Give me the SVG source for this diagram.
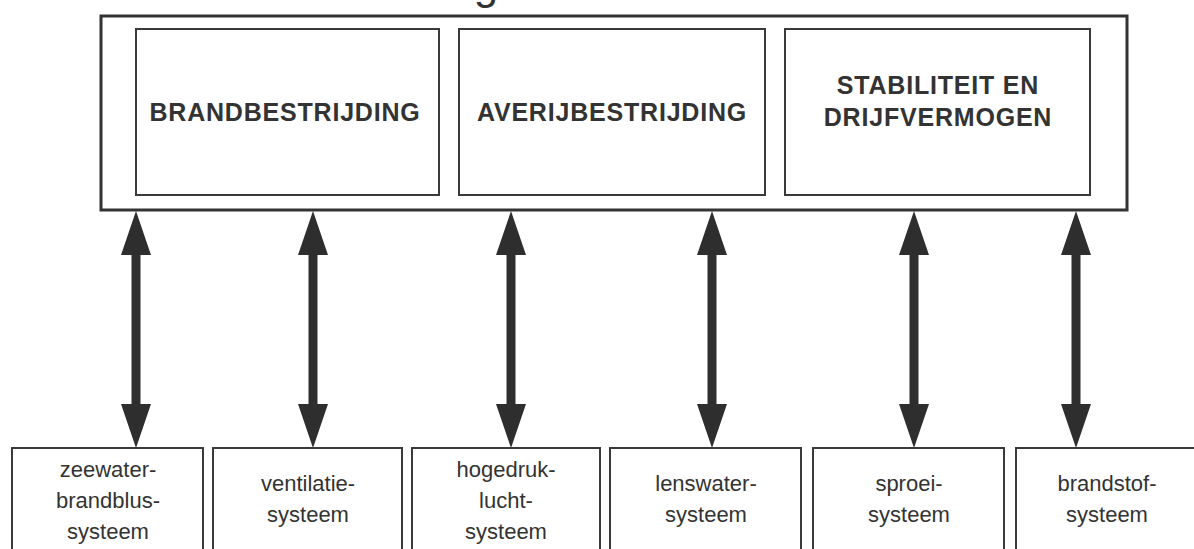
<svg xmlns="http://www.w3.org/2000/svg" width="1194" height="549" viewBox="0 0 1194 549">
<style>
.bg{fill:#fff}
.outer{fill:none;stroke:#333;stroke-width:3}
.box{fill:#fff;stroke:#3a3a3a;stroke-width:2}
.big{font-family:"Liberation Sans",Arial,sans-serif;font-weight:bold;font-size:25px;fill:#333;letter-spacing:0.8px;text-anchor:middle}
.small{font-family:"Liberation Sans",Arial,sans-serif;font-size:22px;fill:#333;text-anchor:middle}
.arrow{fill:#2e2e2e}
</style>
<defs>
<polygon id="dbl" points="0,0 15,44 4.5,44 4.5,193 15,193 0,237 -15,193 -4.5,193 -4.5,44 -15,44"/>
</defs>
<rect class="bg" x="0" y="0" width="1194" height="549"/>
<text x="486" y="-1" font-family="Liberation Sans, Arial, sans-serif" font-size="44" fill="#333" text-anchor="middle">g</text>
<g id="system">
<rect class="outer" x="101" y="16" width="1026" height="194"/>
</g>
<g id="brandbestrijding">
<rect class="box" x="136" y="29" width="303" height="166"/>
<text class="big" x="285" y="121">BRANDBESTRIJDING</text>
</g>
<g id="averijbestrijding">
<rect class="box" x="459" y="29" width="306" height="166"/>
<text class="big" x="612" y="121">AVERIJBESTRIJDING</text>
</g>
<g id="stabiliteit">
<rect class="box" x="785" y="29" width="305" height="166"/>
<text class="big" x="938" y="94">STABILITEIT EN</text>
<text class="big" x="938" y="126">DRIJFVERMOGEN</text>
</g>
<g id="connectors" class="arrow">
<use href="#dbl" x="136" y="211"/>
<use href="#dbl" x="313" y="211"/>
<use href="#dbl" x="511" y="211"/>
<use href="#dbl" x="712" y="211"/>
<use href="#dbl" x="914" y="211"/>
<use href="#dbl" x="1076" y="211"/>
</g>
<g id="zeewater">
<rect class="box" x="12" y="448" width="191" height="120"/>
<text class="small" x="108" y="477">zeewater-</text>
<text class="small" x="108" y="508">brandblus-</text>
<text class="small" x="108" y="539">systeem</text>
</g>
<g id="ventilatie">
<rect class="box" x="213" y="448" width="189" height="120"/>
<text class="small" x="308" y="491">ventilatie-</text>
<text class="small" x="308" y="522">systeem</text>
</g>
<g id="hogedruk">
<rect class="box" x="412" y="448" width="188" height="120"/>
<text class="small" x="506" y="477">hogedruk-</text>
<text class="small" x="506" y="508">lucht-</text>
<text class="small" x="506" y="539">systeem</text>
</g>
<g id="lenswater">
<rect class="box" x="610" y="448" width="191" height="120"/>
<text class="small" x="706" y="491">lenswater-</text>
<text class="small" x="706" y="522">systeem</text>
</g>
<g id="sproei">
<rect class="box" x="813" y="448" width="191" height="120"/>
<text class="small" x="909" y="491">sproei-</text>
<text class="small" x="909" y="522">systeem</text>
</g>
<g id="brandstof">
<rect class="box" x="1016" y="448" width="182" height="120"/>
<text class="small" x="1107" y="491">brandstof-</text>
<text class="small" x="1107" y="522">systeem</text>
</g>
</svg>
